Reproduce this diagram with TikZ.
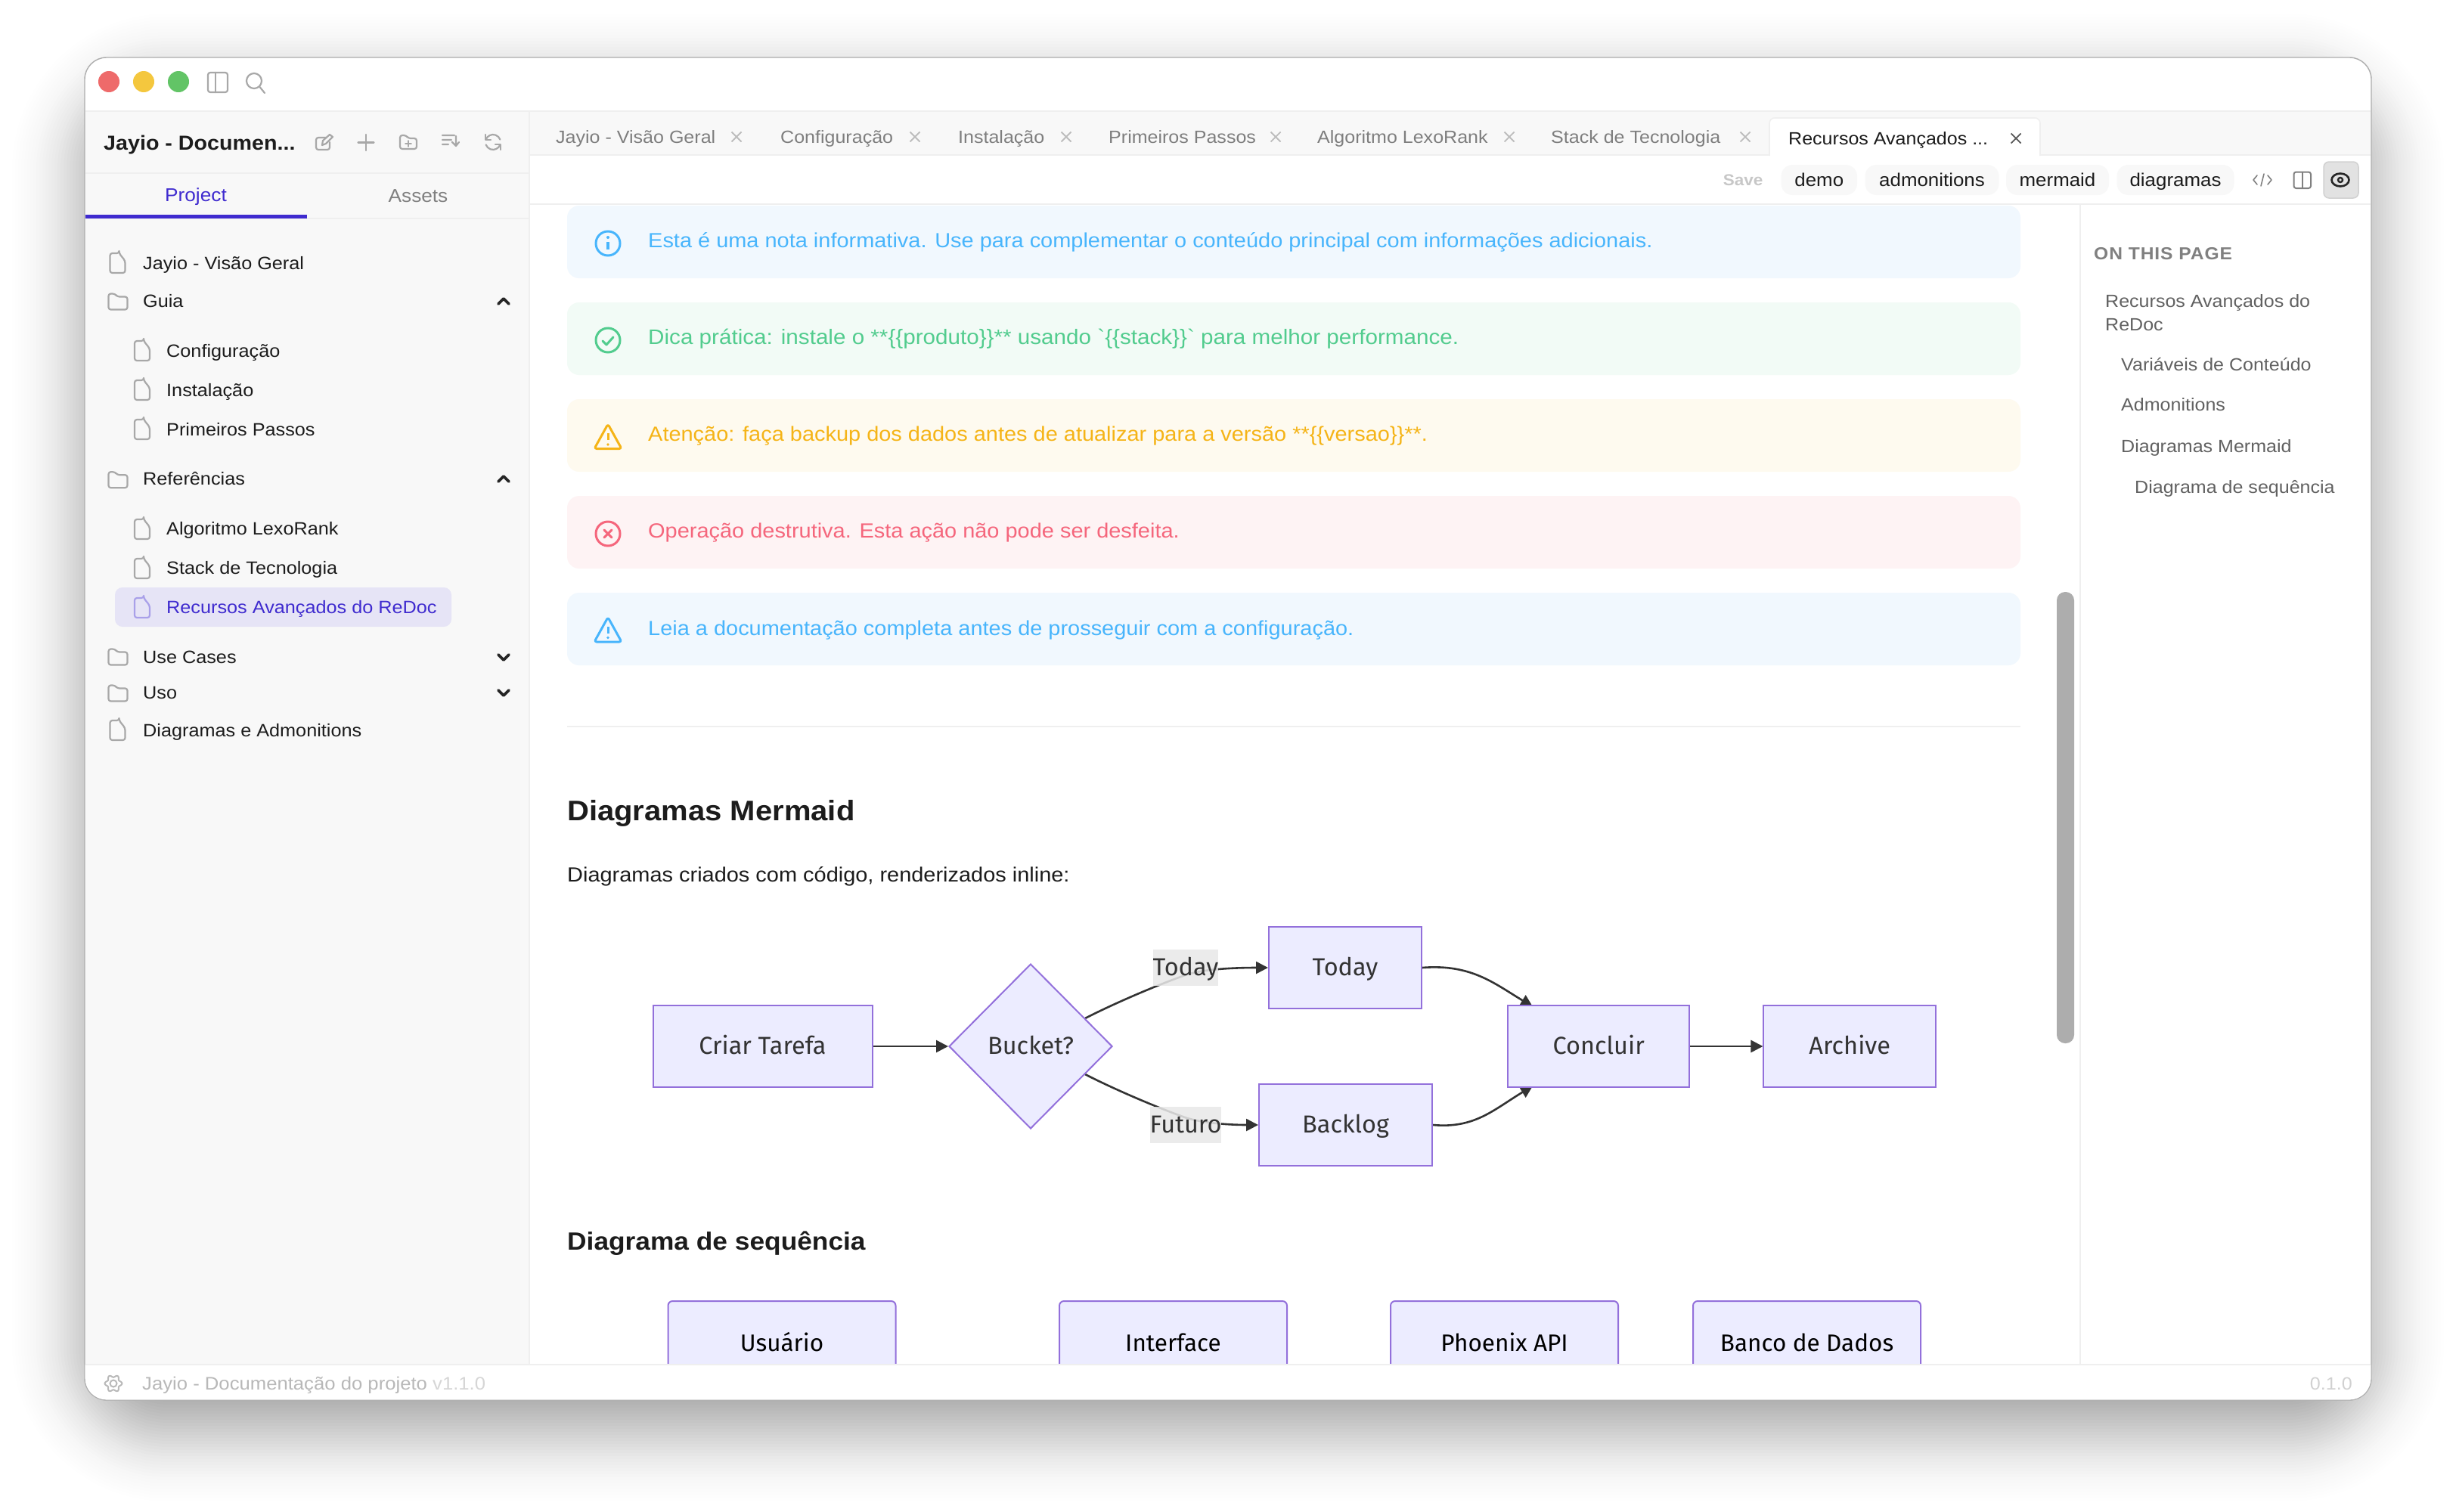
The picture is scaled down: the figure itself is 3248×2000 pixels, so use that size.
\documentclass[tikz,border=0pt]{standalone}
\usepackage{fontspec}
\setmainfont[FakeStretch=1.07,Ligatures=TeXOff]{Liberation Sans}
\newfontfamily\mm[Ligatures=TeXOff]{Fira Sans}
\usetikzlibrary{arrows.meta,shapes.geometric}
\pgfdeclarelayer{back}\pgfdeclarelayer{edges}\pgfdeclarelayer{front}
\pgfsetlayers{back,edges,main,front}
\definecolor{accent}{HTML}{3F2BCF}
\definecolor{lineg}{HTML}{EFEFEF}
\definecolor{side}{HTML}{F8F8F8}
\definecolor{icg}{HTML}{A8A8A8}
\definecolor{tabg}{HTML}{7E7E7E}
\definecolor{xg}{HTML}{BDBDBD}
\definecolor{ink}{HTML}{1C1C1C}
\definecolor{ablue}{HTML}{48B5FC}\definecolor{abluebg}{HTML}{F1F8FE}
\definecolor{agreen}{HTML}{52CC8E}\definecolor{agreenbg}{HTML}{F2FBF6}
\definecolor{ayel}{HTML}{F5B417}\definecolor{ayelbg}{HTML}{FEFAEF}
\definecolor{ared}{HTML}{F5667C}\definecolor{aredbg}{HTML}{FEF3F4}
\definecolor{mfill}{HTML}{ECECFF}
\definecolor{mline}{HTML}{9370DB}
\definecolor{medge}{HTML}{333333}
\definecolor{lablebg}{HTML}{E8E8E8}
\definecolor{tred}{HTML}{EE6A6A}\definecolor{tyel}{HTML}{F4C73E}\definecolor{tgrn}{HTML}{62C466}
\definecolor{selbg}{HTML}{E6E4F6}\definecolor{eyebg}{HTML}{E2E2E2}\definecolor{scrollg}{HTML}{ADADAD}
\newcommand\T[5]{\node (#1) [txt,#4] at (#2,#3) {#5};}
\tikzset{
  x=1pt,y=-1pt,
  txt/.style={inner sep=0pt,anchor=base west,text=ink,font=\fontsize{23.6}{28}\selectfont},
  tabt/.style={text=tabg,font=\fontsize{23.4}{28}\selectfont},
  toct/.style={text=black!62,font=\fontsize{23.4}{28}\selectfont},
  alertt/.style={font=\fontsize{27.05}{32}\selectfont},
  alertbox/.style={rounded corners=16pt},
  ic/.style={draw=icg,line width=2.2pt,line cap=round,line join=round},
  mbox/.style={draw=mline,fill=mfill,line width=2pt,inner sep=0pt,text=medge,
    minimum height=108pt,text height=26pt,text depth=6pt,font=\mm\fontsize{32.5}{38}\selectfont},
  seqbox/.style={draw=mline,fill=mfill,line width=2pt,inner sep=0pt,text=black,rounded corners=6pt,
    minimum width=301pt,minimum height=108pt,text height=31pt,text depth=7pt,font=\mm\fontsize{31.5}{38}\selectfont},
  mlabel/.style={fill=lablebg,fill opacity=.86,text opacity=1,inner sep=0pt,text=medge,minimum height=48pt,
    text height=26pt,text depth=6pt,font=\mm\fontsize{32.5}{38}\selectfont},
  medge/.style={draw=medge,line width=2.6pt,-{Triangle[length=16pt,width=16pt]}},
  pics/doc/.style={code={\draw[ic,rounded corners=3pt] (2,-13)--(-10,-13)--(-10,13)--(10,13)--(10,-3)--(2,-13)--cycle;}},
  pics/docsel/.style={code={\draw[ic,draw=accent!45,rounded corners=3pt] (2,-13)--(-10,-13)--(-10,13)--(10,13)--(10,-3)--(2,-13)--cycle;}},
  pics/folder/.style={code={\draw[ic,rounded corners=3pt] (-12.5,-10.5)--(-12.5,10.5)--(12.5,10.5)--(12.5,-6.5)--(-1,-6.5)--(-4,-10.5)--cycle;}},
  pics/chevup/.style={code={\draw[line width=3.6pt,black!85,line cap=round,line join=round] (-7,4)--(0,-3)--(7,4);}},
  pics/chevdown/.style={code={\draw[line width=3.6pt,black!85,line cap=round,line join=round] (-7,-3)--(0,4)--(7,-3);}},
  pics/closex/.style={code={\draw[draw=xg,line width=1.8pt] (-6.5,-6.5)--(6.5,6.5) (-6.5,6.5)--(6.5,-6.5);}},
  pics/warn/.style={code={
     \draw[line width=3pt,rounded corners=3pt,line join=round] (0,-17)--(18,15.5)--(-18,15.5)--cycle;
     \draw[line width=3pt] (0,-5)--(0,4);
     \fill (0,10) circle (1.9pt);}},
}
\begin{document}
\begin{tikzpicture}
\useasboundingbox (0,0) rectangle (3248,2000);
\begin{pgfonlayer}{back}
\fill[white] (0,0) rectangle (3248,2000);
% shadow
\foreach \d in {-100,-96,...,100}{
  \pgfmathsetmacro\op{0.0134*exp(-(\d/50)^2/2)}
  \pgfmathsetmacro\ra{\d+110}
  \pgfmathsetmacro\xa{112-\d}\pgfmathsetmacro\ya{114-\d}
  \pgfmathsetmacro\xb{3136+\d}\pgfmathsetmacro\yb{1890+\d}
  \fill[black,opacity=\op,rounded corners=\ra pt] (\xa,\ya) rectangle (\xb,\yb);
}
% window
\fill[white,draw=black!32,line width=1.4pt,rounded corners=29pt] (112,76) rectangle (3136,1852);
% sidebar
\fill[side] (112.7,147) rectangle (700,1804);
\draw[lineg,line width=2pt] (112.7,147)--(3135.3,147);
\draw[lineg,line width=2pt] (700,147)--(700,1804);
\draw[lineg,line width=2pt] (112.7,229)--(700,229);
\draw[lineg,line width=2pt] (112.7,289)--(700,289);
\fill[accent] (112.7,284) rectangle (406,288.5);
% tab bar
\fill[side] (701,148) rectangle (3135.3,204);
\draw[lineg,line width=2pt] (701,205)--(3135.3,205);
\draw[lineg,line width=2pt] (701,270)--(3135.3,270);
\draw[lineg,line width=1.6pt] (2751,271)--(2751,1804);
% active tab
\fill[white,draw=lineg,line width=1.6pt,rounded corners=7pt] (2340,206)--(2340,156)--(2698,156)--(2698,206);
\fill[white] (2341,200) rectangle (2697,207);
% traffic
\fill[tred] (144,108) circle (14pt);
\fill[tyel] (190,108) circle (14pt);
\fill[tgrn] (236,108) circle (14pt);
\draw[ic,rounded corners=3pt] (275,96) rectangle (301,122);
\draw[ic] (285,96)--(285,122);
\draw[ic] (336,107) circle (10pt);
\draw[ic] (343.5,115)--(350,123);
% sidebar header icons
\draw[ic,rounded corners=3pt] (432,182)--(418,182)--(418,198)--(436,198)--(436,188);
\draw[ic] (426,192)--(427,186)--(436,178)--(440,181)--(431,190)--cycle;
\draw[ic] (484,178)--(484,199) (473.5,188.5)--(494.5,188.5);
\draw[ic,rounded corners=3pt] (529,179)--(529,197)--(551,197)--(551,183)--(540,183)--(537,179)--cycle;
\draw[ic,line width=1.8pt] (540,186)--(540,194) (536,190)--(544,190);
\draw[ic] (585,179)--(601,179) (585,185)--(597,185) (585,191)--(593,191) (603,180)--(603,193) (598,188)--(603,193)--(607,188);
\draw[ic] (642.6,184.6) arc[start angle=160,end angle=20,radius=10pt];
\draw[ic] (661.4,191.4) arc[start angle=-20,end angle=-160,radius=10pt];
\draw[ic] (642,178)--(642,185)--(649,185) (662,198)--(662,191)--(655,191);
% selected row
\fill[selbg,rounded corners=10pt] (152,777) rectangle (597,829);
% alerts
\fill[abluebg,alertbox] (750,272) rectangle (2672,368);
\fill[agreenbg,alertbox] (750,400) rectangle (2672,496);
\fill[ayelbg,alertbox] (750,528) rectangle (2672,624);
\fill[aredbg,alertbox] (750,656) rectangle (2672,752);
\fill[abluebg,alertbox] (750,784) rectangle (2672,880);
% scrollbar
\fill[scrollg,rounded corners=11pt] (2720,783) rectangle (2743,1380);
\end{pgfonlayer}

% sidebar title + tabs
\T{ttl}{137}{198}{font=\bfseries\fontsize{26.8}{32}\selectfont}{Jayio - Documen...}
\node (tproj) [txt,anchor=base,text=accent,font=\fontsize{24.5}{28}\selectfont] at (259,266) {Project};
\node (tass) [txt,anchor=base,text=black!50,font=\fontsize{24.5}{28}\selectfont] at (553,267) {Assets};

% sidebar items
\T{s1}{189}{356}{}{Jayio - Visão Geral}
\T{s2}{189}{406}{}{Guia}
\T{s3}{220}{472}{}{Configuração}
\T{s4}{220}{524}{}{Instalação}
\T{s5}{220}{576}{}{Primeiros Passos}
\T{s6}{189}{641}{}{Referências}
\T{s7}{220}{707}{}{Algoritmo LexoRank}
\T{s8}{220}{759}{}{Stack de Tecnologia}
\T{s9}{220}{811}{text=accent}{Recursos Avançados do ReDoc}
\T{s10}{189}{877}{}{Use Cases}
\T{s11}{189}{924}{}{Uso}
\T{s12}{189}{974}{}{Diagramas e Admonitions}
\foreach \yy in {348,966}{\pic at (155.5,\yy) {doc};}
\foreach \yy in {464,516,568,700,752}{\pic at (188,\yy) {doc};}
\pic at (188,804) {docsel};
\foreach \yy in {399,634.7,869,917}{\pic at (156,\yy) {folder};}
\pic at (666,398) {chevup};
\pic at (666,633) {chevup};
\pic at (666,869) {chevdown};
\pic at (666,916) {chevdown};

% tabs
\T{tb1}{735}{189}{tabt}{Jayio - Visão Geral}
\T{tb2}{1032}{189}{tabt}{Configuração}
\T{tb3}{1267}{189}{tabt}{Instalação}
\T{tb4}{1466}{189}{tabt}{Primeiros Passos}
\T{tb5}{1742}{189}{tabt}{Algoritmo LexoRank}
\T{tb6}{2051}{189}{tabt}{Stack de Tecnologia}
\T{tb7}{2365}{191}{font=\fontsize{23.4}{28}\selectfont}{Recursos Avançados ...}
\foreach \xx in {974,1210,1410,1687,1996,2308}{\pic at (\xx,181) {closex};}
\draw[draw=black!65,line width=1.8pt] (2659.5,176.5)--(2672.5,189.5) (2659.5,189.5)--(2672.5,176.5);

% toolbar
\node (save) [txt,anchor=center,text=black!22,font=\bfseries\fontsize{21}{24}\selectfont] at (2305,238) {Save};
\foreach \n/\xa/\xb/\tt in {c1/2355.5/2456/demo,c2/2466.5/2643.5/admonitions,c3/2653/2789/mermaid,c4/2799.5/2954.5/diagramas}{
  \fill[side,rounded corners=15pt] (\xa,218) rectangle (\xb,258);
  \pgfmathsetmacro\xc{(\xa+\xb)/2}
  \node (\n) [txt,anchor=base,font=\fontsize{24.2}{28}\selectfont] at (\xc,246) {\tt};
}
\draw[draw=black!50,line width=1.6pt,line cap=round,line join=round] (2985,232)--(2980,238)--(2985,244) (2999,232)--(3004,238)--(2999,244) (2994,230)--(2990,246);
\draw[draw=black!50,line width=2pt,rounded corners=3pt] (3033.5,227.5) rectangle (3056,249);
\draw[draw=black!50,line width=2pt] (3044.7,227.5)--(3044.7,249);
\fill[eyebg,draw=black!18,line width=1.5pt,rounded corners=7pt] (3073,214) rectangle (3119,262);
\draw[black!85,line width=2.6pt] (3095,238) ellipse (11.5pt and 8.5pt);
\draw[black!85,line width=2.4pt] (3095,238) circle (3pt);

% toc
\T{toc0}{2769}{343}{text=black!50,font=\bfseries\fontsize{23}{26}\selectfont\addfontfeature{LetterSpace=4}}{ON THIS PAGE}
\T{toc1}{2784}{406}{toct}{Recursos Avançados do}
\T{toc2}{2784}{437}{toct}{ReDoc}
\T{toc3}{2805}{490}{toct}{Variáveis de Conteúdo}
\T{toc4}{2805}{543}{toct}{Admonitions}
\T{toc5}{2805}{598}{toct}{Diagramas Mermaid}
\T{toc6}{2823}{652}{toct}{Diagrama de sequência}

% alert text
\T{a1}{857}{327}{alertt,text=ablue}{Esta é uma nota informativa. Use para complementar o conteúdo principal com informações adicionais.}
\T{a2}{857}{455}{text=agreen,font=\fontsize{27.7}{32}\selectfont}{Dica prática: instale o **\{\{produto\}\}** usando `\{\{stack\}\}` para melhor performance.}
\T{a3}{857}{583}{alertt,text=ayel}{Atenção: faça backup dos dados antes de atualizar para a versão **\{\{versao\}\}**.}
\T{a4}{857}{711}{alertt,text=ared}{Operação destrutiva. Esta ação não pode ser desfeita.}
\T{a5}{857}{840}{alertt,text=ablue}{Leia a documentação completa antes de prosseguir com a configuração.}
% alert icons
\draw[ablue,line width=3pt] (804,322) circle (16pt);
\draw[ablue,line width=3.4pt] (804,320)--(804,330);
\fill[ablue] (804,314) circle (2pt);
\draw[agreen,line width=3pt] (804,450) circle (16pt);
\draw[agreen,line width=3pt,line cap=round,line join=round] (797,451)--(802,456)--(811,446);
\pic[ayel,fill=ayel,draw=ayel] at (804,578) {warn};
\draw[ared,line width=3pt] (804,706) circle (16pt);
\draw[ared,line width=3pt,line cap=round] (799,701)--(809,711) (799,711)--(809,701);
\pic[ablue,draw=ablue] at (804,833.5) {warn};

% section text
\draw[lineg,line width=2pt] (750,961)--(2672,961);
\T{h1}{750}{1085}{font=\bfseries\fontsize{37.4}{44}\selectfont}{Diagramas Mermaid}
\T{p1}{750}{1166}{font=\fontsize{27.05}{32}\selectfont}{Diagramas criados com código, renderizados inline:}
\T{h2}{750}{1653}{font=\bfseries\fontsize{33}{42}\selectfont}{Diagrama de sequência}

% flowchart nodes
\node (criar) [mbox,minimum width=290pt] at (1008.5,1384) {Criar Tarefa};
\node (bucket) [mbox,shape=diamond,minimum width=216pt,minimum height=218pt,aspect=1] at (1363,1384) {Bucket?};
\node (today) [mbox,minimum width=202pt] at (1779,1280) {Today};
\node (backlog) [mbox,minimum width=229pt] at (1779.5,1488) {Backlog};
\node (concluir) [mbox,minimum width=239.5pt] at (2114.2,1384) {Concluir};
\node (archive) [mbox,minimum width=227.5pt] at (2446.2,1384) {Archive};
\node (ltoday) [mlabel,minimum width=82pt] at (1568,1280) {Today};
\node (lfuturo) [mlabel,minimum width=94pt] at (1568,1488) {Futuro};
\coordinate (cin1) at (2027,1331.5);
\coordinate (cin2) at (2027,1436.5);
\coordinate (bo1) at (1435,1347);
\coordinate (bo2) at (1435,1421);
\coordinate (em1) at (1567,1290);
\coordinate (em2) at (1567,1478);
\begin{pgfonlayer}{edges}
\draw[medge] (criar.east)--(bucket.west);
\draw[medge] (concluir.east)--(archive.west);
\draw[medge] (bo1) .. controls (1470,1329) and (1525,1305) .. (em1) .. controls (1590,1282) and (1630,1280) .. (today.west);
\draw[medge] (bo2) .. controls (1470,1439) and (1525,1463) .. (em2) .. controls (1590,1486) and (1630,1488) .. (backlog.west);
\draw[medge] (today.east) .. controls (1945,1275) and (1975,1300) .. (cin1);
\draw[medge] (backlog.east) .. controls (1950,1493) and (1975,1468) .. (cin2);
\end{pgfonlayer}

% sequence boxes
\node (q1) [seqbox] at (1034,1775) {Usuário};
\node (q2) [seqbox] at (1551.5,1775) {Interface};
\node (q3) [seqbox] at (1989.5,1775) {Phoenix API};
\node (q4) [seqbox] at (2389.5,1775) {Banco de Dados};

% bottom bar over everything
\begin{pgfonlayer}{front}
\fill[white] (112.7,1805) [rounded corners=28pt] -- (112.7,1851.3) -- (3135.3,1851.3) [sharp corners] -- (3135.3,1805) -- cycle;
\draw[lineg,line width=2pt] (112.7,1805)--(3135.3,1805);
\draw[icg!80,line width=2pt,smooth] plot[domain=0:360,samples=97] ({150+(9.8+1.6*cos(6*\x))*cos(\x)},{1830+(9.8+1.6*cos(6*\x))*sin(\x)});
\draw[icg!80,line width=2pt] (150,1830) circle (4.5pt);
\node (foot) [txt,text=black!28,font=\fontsize{24}{26}\selectfont] at (188,1838) {Jayio - Documentação do projeto \textcolor{black!16}{v1.1.0}};
\node (ver) [txt,anchor=base east,text=black!18,font=\fontsize{23.5}{26}\selectfont] at (3111,1838) {0.1.0};
\end{pgfonlayer}
\end{tikzpicture}
\end{document}
